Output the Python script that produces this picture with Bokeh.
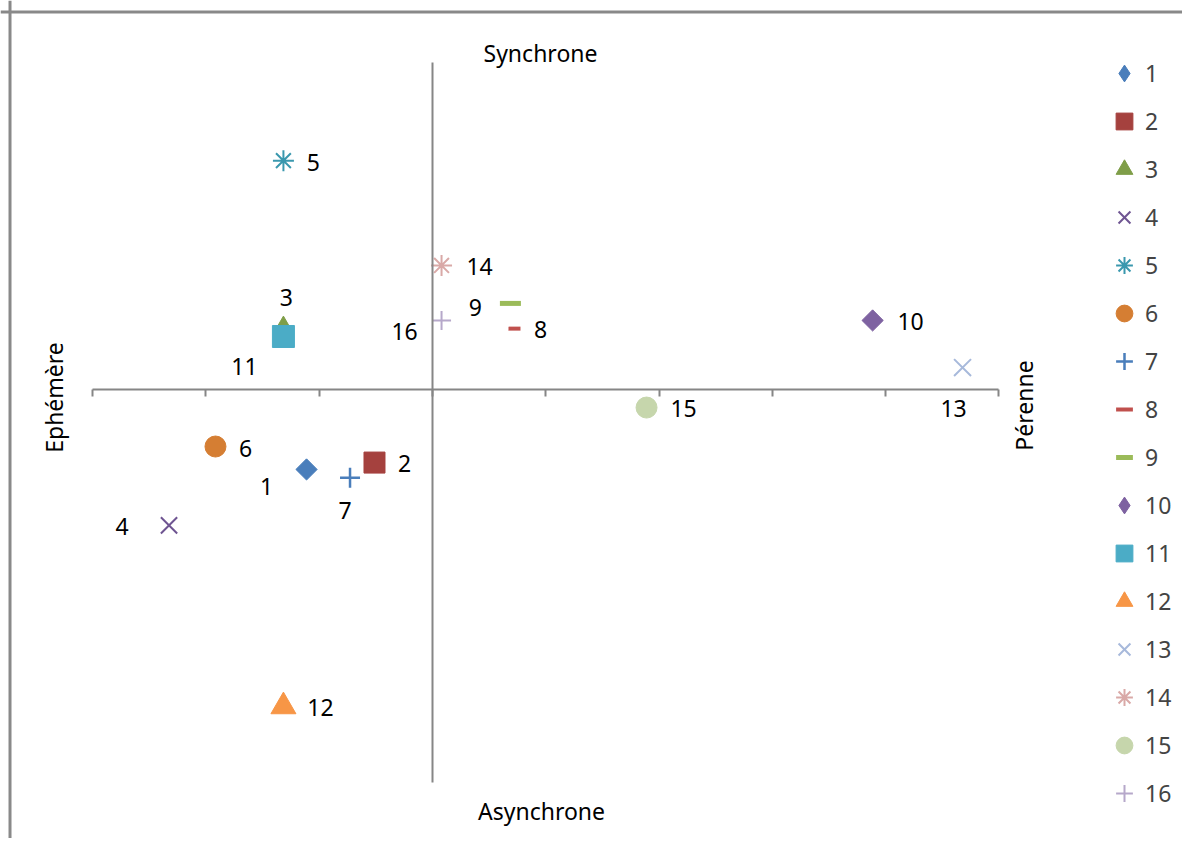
import math
from bokeh.plotting import figure
from bokeh.models import (Range1d, ColumnDataSource, Legend, LegendItem, Label,
                          Span, SingleIntervalTicker)
from bokeh.core.properties import value
from bokeh.embed import file_html
from bokeh.resources import INLINE

# ---------------- data ----------------
series = ["1", "2", "3", "4", "5", "6", "7", "8",
          "9", "10", "11", "12", "13", "14", "15", "16"]
x_vals = [-0.556, -0.256, -0.658, -1.163, -0.658, -0.958, -0.364, 0.362,
          0.344, 1.943, -0.658, -0.658, 2.340, 0.040, 0.945, 0.040]
y_vals = [-0.244, -0.223, 0.189, -0.415, 0.699, -0.174, -0.269, 0.186,
          0.263, 0.211, 0.162, -0.968, 0.067, 0.379, -0.055, 0.211]

axis_titles = {"top": "Synchrone", "bottom": "Asynchrone",
               "left": "Ephémère", "right": "Pérenne"}

# ---------------- styles ----------------
markers = ["square", "square", "triangle", "x", "asterisk", "circle", "cross", "dash",
           "dash", "square", "square", "triangle", "x", "asterisk", "circle", "cross"]
legend_markers = ["diamond", "square", "triangle", "x", "asterisk", "circle", "cross", "dash",
                  "dash", "diamond", "square", "triangle", "x", "asterisk", "circle", "cross"]
angles = [math.pi / 4, 0, 0, 0, 0, 0, 0, 0, 0, math.pi / 4, 0, 0, 0, 0, 0, 0]
colors = ["#4A7EBB", "#A5413E", "#7F9E48", "#6F5592", "#3A98AE", "#D57E33",
          "#4A7EBB", "#C0504D", "#9BBB59", "#7E62A1", "#4BACC6", "#F79646",
          "#A7B9DB", "#D9A9A7", "#C6D6AC", "#B6A8CA"]
sizes = [15, 21, 20, 23, 21, 21, 20, 12, 21, 15, 22, 25, 24, 21, 21, 19]
line_widths = [1, 1, 1, 2, 2, 1, 2.5, 4, 5, 1, 1, 1, 2, 2, 1, 2]
filled = [True, True, True, False, False, True, False, False,
          False, True, True, True, False, False, True, False]
# data-label offsets in screen pixels (dx right, dy down)
label_dx = [-40, 30, 3, -47, 30, 30, -5, 26, -35, 38, -39, 37, -9, 38, 37, -37]
label_dy = [17, 1, -30, 1, 2, 2, 33, 1, 4, 1, 30, 1, 41, 1, 1, 11]

FONT = "Noto Sans"
FS = "23px"
AXIS_COL = "#868686"

p = figure(width=1182, height=838,
           x_range=Range1d(-1.907, 3.311), y_range=Range1d(-1.371, 1.188),
           output_backend="svg", toolbar_location=None, min_border=0)
p.xgrid.visible = False
p.ygrid.visible = False
p.outline_line_color = None
p.background_fill_color = "white"

xa = p.xaxis[0]
xa.fixed_location = 0
xa.bounds = (-1.5, 2.5)
xa.ticker = SingleIntervalTicker(interval=0.5, num_minor_ticks=0)
xa.axis_line_color = AXIS_COL
xa.axis_line_width = 2
xa.major_tick_line_color = AXIS_COL
xa.major_tick_line_width = 2
xa.major_tick_out = 7
xa.major_tick_in = 0
xa.minor_tick_out = 0
xa.minor_tick_in = 0
xa.major_label_text_font_size = "0px"
xa.major_label_text_color = None
xa.major_label_standoff = 0

ya = p.yaxis[0]
ya.fixed_location = 0
ya.bounds = (-1.2, 1.0)
ya.axis_line_color = AXIS_COL
ya.axis_line_width = 2
ya.major_tick_line_color = None
ya.minor_tick_line_color = None
ya.major_tick_out = 0
ya.major_tick_in = 0
ya.minor_tick_out = 0
ya.minor_tick_in = 0
ya.major_label_text_font_size = "0px"
ya.major_label_text_color = None
ya.major_label_standoff = 0

# chart-area border (top & left visible in the crop)
p.add_layout(Span(location=-1.865, dimension="height", line_color="#898989", line_width=3))
p.add_layout(Span(location=1.153, dimension="width", line_color="#898989", line_width=3))

items = []
for i, name in enumerate(series):
    kw = dict(size=sizes[i], line_color=colors[i], line_width=line_widths[i],
              fill_color=colors[i] if filled[i] else None)
    r = p.scatter(x=[x_vals[i]], y=[y_vals[i]], marker=markers[i], angle=angles[i], **kw)
    if legend_markers[i] != markers[i]:
        proxy = p.scatter(x=[x_vals[i]], y=[y_vals[i]], marker=legend_markers[i],
                          visible=False, **kw)
        items.append(LegendItem(label=name, renderers=[proxy]))
    else:
        items.append(LegendItem(label=name, renderers=[r]))

src = ColumnDataSource(dict(x=x_vals, y=y_vals, t=series, dx=label_dx, dy=label_dy))
p.text(x="x", y="y", text="t", source=src, x_offset="dx", y_offset="dy",
       text_align="center", text_baseline="middle",
       text_font=value(FONT), text_font_size=value(FS), text_color="black")

legend = Legend(items=items, location=(1103, 24), glyph_width=42, glyph_height=42,
                spacing=6, padding=0, margin=0, border_line_color=None,
                background_fill_alpha=0, label_text_font=FONT,
                label_text_font_size=FS, label_standoff=0, click_policy="none")
p.add_layout(legend)

for txt, x, y, ang in [(axis_titles["top"], 540, 786, 0),
                       (axis_titles["bottom"], 541, 28, 0),
                       (axis_titles["left"], 53, 441, math.pi / 2),
                       (axis_titles["right"], 1023, 433, math.pi / 2)]:
    p.add_layout(Label(x=x, y=y, x_units="screen", y_units="screen", text=txt,
                       angle=ang, text_align="center", text_baseline="middle",
                       text_font=FONT, text_font_size=FS, text_color="black"))

open("out.html", "w").write(file_html(p, INLINE))
